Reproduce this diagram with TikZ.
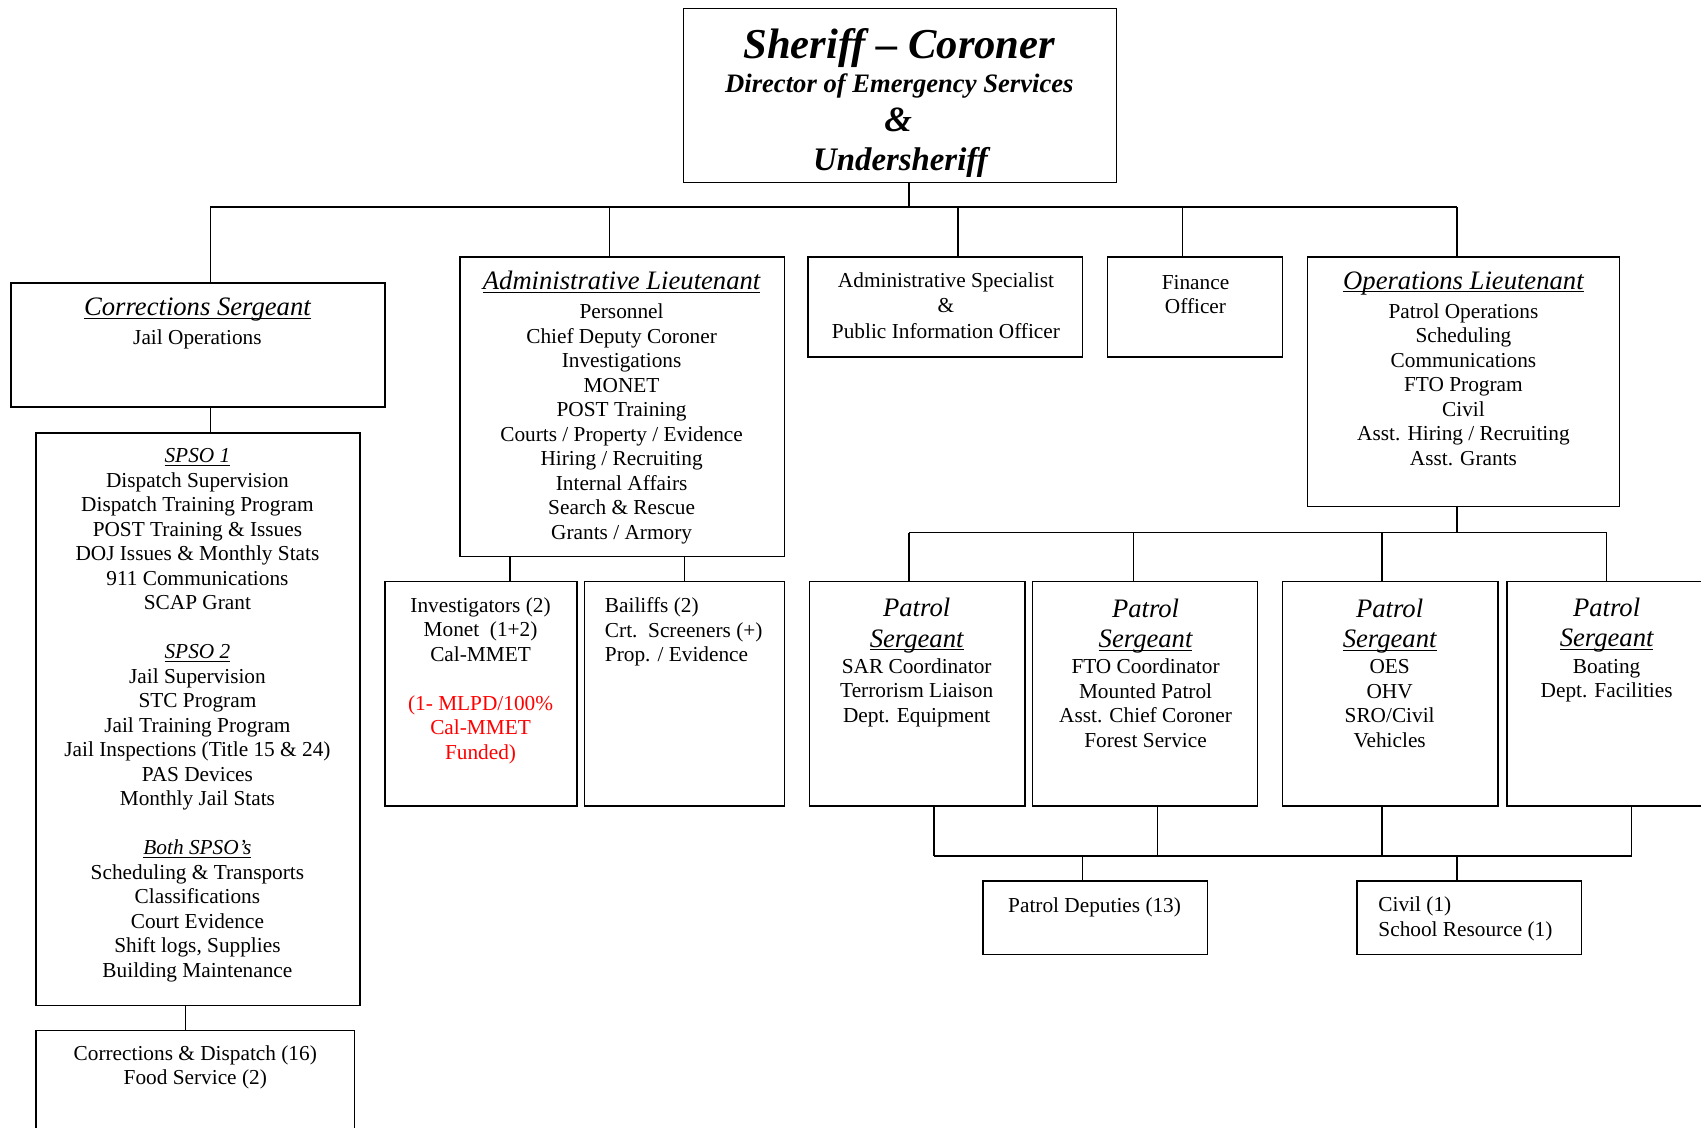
\documentclass[tikz,border=0pt]{standalone}
\usepackage{fontspec}
\setmainfont{Liberation Serif}
\usetikzlibrary{positioning}

\newcommand{\hd}[1]{{\fontsize{15}{17}\selectfont\itshape #1}}
\newcommand{\uhd}[1]{\underline{\smash{\hd{#1}}}}
\newcommand{\ttl}[1]{\underline{\smash{\textit{#1}}}}

\begin{document}
\begin{tikzpicture}[x=0.611pt,y=-0.611pt,line width=0.8pt,
  box/.style 2 args={draw,inner sep=0,outer sep=0,anchor=north west,
    minimum width=#1*0.611pt,minimum height=#2*0.611pt},
  txt/.style={inner sep=0,align=center,anchor=base,font=\fontsize{12}{13.8}\selectfont},
  ltxt/.style={txt,align=left,anchor=base west}]
  \useasboundingbox (0,0) rectangle (1568,1039);
  \clip (0,0) rectangle (1568,1039);

  % boxes
  \node[box={399}{160}] (top)  at (630,8)    {};
  \node[box={345}{114}] (cs)   at (10,261)   {};
  \node[box={299}{528}] (spso) at (33,399)   {};
  \node[box={294}{120}] (crd)  at (33,950)   {};
  \node[box={299}{276}] (adm)  at (424,237)  {};
  \node[box={177}{207}] (inv)  at (355,536)  {};
  \node[box={184}{207}] (bail) at (539,536)  {};
  \node[box={253}{92}]  (spec) at (745,237)  {};
  \node[box={161}{92}]  (fin)  at (1021,237) {};
  \node[box={288}{230}] (ops)  at (1205,237) {};
  \node[box={199}{207}] (p1)   at (746,536)  {};
  \node[box={207}{207}] (p2)   at (952,536)  {};
  \node[box={199}{207}] (p3)   at (1182,536) {};
  \node[box={200}{207}] (p4)   at (1389,536) {};
  \node[box={207}{68}]  (dep)  at (906,812)  {};
  \node[box={207}{68}]  (civ)  at (1251,812) {};

  % texts (anchored at the baseline of the last line)
  \node[anchor=base,inner sep=0,font=\fontsize{24}{28}\selectfont\bfseries\itshape]
    (t1) at (829,54) {Sheriff -- Coroner};
  \node[anchor=base,inner sep=0,font=\fontsize{15}{18}\selectfont\bfseries\itshape]
    (t2) at (829,85) {Director of Emergency Services};
  \node[anchor=base,inner sep=0,font=\fontsize{20}{24}\selectfont\bfseries\itshape]
    (t3) at (828,121) {\&};
  \node[anchor=base,inner sep=0,font=\fontsize{18.5}{22}\selectfont\bfseries\itshape]
    (t4) at (830,157) {Undersheriff};

  \node[txt] (cstxt) at (182,318) {\uhd{Corrections Sergeant}\\[2.6pt] Jail Operations};
  \node[txt] (spsotxt) at (182,901) {\ttl{SPSO 1}\\ Dispatch Supervision\\
    Dispatch Training Program\\ POST Training \& Issues\\ DOJ Issues \& Monthly Stats\\
    911 Communications\\ SCAP Grant\\[13.8pt]
    \ttl{SPSO 2}\\ Jail Supervision\\ STC Program\\ Jail Training Program\\
    Jail Inspections (Title 15 \& 24)\\ PAS Devices\\ Monthly Jail Stats\\[13.8pt]
    \ttl{Both SPSO's}\\ Scheduling \& Transports\\ Classifications\\ Court Evidence\\
    Shift logs, Supplies\\ Building Maintenance};
  \node[txt] (crdtxt) at (180,1000) {Corrections \& Dispatch (16)\\ Food Service (2)};

  \node[txt] (admtxt) at (573,497) {\uhd{Administrative Lieutenant}\\[2.6pt] Personnel\\
    Chief Deputy Coroner\\ Investigations\\ MONET\\ POST Training\\
    Courts / Property / Evidence\\ Hiring / Recruiting\\ Internal Affairs\\
    Search \& Rescue\\ Grants / Armory};
  \node[txt] (invtxt) at (443,700) {Investigators (2)\\ Monet\ \ (1+2)\\ Cal-MMET\\[13.8pt]
    \textcolor{red}{(1- MLPD/100\%}\\ \textcolor{red}{Cal-MMET}\\ \textcolor{red}{Funded)}};
  \node[ltxt] (bailtxt) at (557,610) {Bailiffs (2)\\ Crt.\ \ Screeners (+)\\ Prop. / Evidence};

  \node[txt] (spectxt) at (872,312) {Administrative Specialist\\ \&\\[1pt] Public Information Officer};
  \node[txt] (fintxt) at (1102,289) {Finance\\ Officer};
  \node[txt] (opstxt) at (1349,429) {\uhd{Operations Lieutenant}\\[2.6pt] Patrol Operations\\
    Scheduling\\ Communications\\ FTO Program\\ Civil\\
    Asst. Hiring / Recruiting\\ Asst. Grants};

  \node[txt] (p1txt) at (845,666) {\hd{Patrol}\\[3.3pt] \uhd{Sergeant}\\[1pt]
    SAR Coordinator\\ Terrorism Liaison\\ Dept. Equipment};
  \node[txt] (p2txt) at (1056,689) {\hd{Patrol}\\[3.3pt] \uhd{Sergeant}\\[1pt]
    FTO Coordinator\\ Mounted Patrol\\ Asst. Chief Coroner\\ Forest Service};
  \node[txt] (p3txt) at (1281,689) {\hd{Patrol}\\[3.3pt] \uhd{Sergeant}\\[1pt]
    OES\\ OHV\\ SRO/Civil\\ Vehicles};
  \node[txt] (p4txt) at (1481,643) {\hd{Patrol}\\[3.3pt] \uhd{Sergeant}\\[1pt]
    Boating\\ Dept. Facilities};

  \node[txt] (deptxt) at (1009,841) {Patrol Deputies (13)};
  \node[ltxt] (civtxt) at (1270,863) {Civil (1)\\ School Resource (1)};

  % top level bus
  \coordinate (j0) at (838,191);
  \coordinate (j1) at (194,191);
  \coordinate (j2) at (562,191);
  \coordinate (j3) at (883,191);
  \coordinate (j4) at (1090,191);
  \coordinate (j5) at (1343,191);
  \draw (j1) -- (j5);
  \draw (j0 |- top.south) -- (j0);
  \foreach \j/\b in {j1/cs, j2/adm, j3/spec, j4/fin, j5/ops}
    \draw (\j) -- (\j |- \b.north);

  % corrections
  \draw (j1 |- cs.south) -- (j1 |- spso.north);
  \coordinate (c1) at (171,927);
  \draw (c1 |- spso.south) -- (c1 |- crd.north);

  % administration
  \coordinate (a1) at (470,513);
  \coordinate (a2) at (631,513);
  \draw (a1 |- adm.south) -- (a1 |- inv.north);
  \draw (a2 |- adm.south) -- (a2 |- bail.north);

  % patrol
  \coordinate (k1) at (838,491);
  \coordinate (k2) at (1045,491);
  \coordinate (k3) at (1274,491);
  \coordinate (k4) at (1481,491);
  \draw (k1) -- (k4);
  \draw (j5 |- ops.south) -- (j5 |- k1);
  \foreach \k/\p in {k1/p1, k2/p2, k3/p3, k4/p4}
    \draw (\k) -- (\k |- \p.north);

  \coordinate (m1) at (861,789);
  \coordinate (m2) at (1067,789);
  \coordinate (m3) at (1274,789);
  \coordinate (m4) at (1504,789);
  \draw (m1) -- (m4);
  \foreach \m/\p in {m1/p1, m2/p2, m3/p3, m4/p4}
    \draw (\m |- \p.south) -- (\m);
  \coordinate (n1) at (998,789);
  \coordinate (n2) at (1343,789);
  \draw (n1) -- (n1 |- dep.north);
  \draw (n2) -- (n2 |- civ.north);
\end{tikzpicture}
\end{document}
